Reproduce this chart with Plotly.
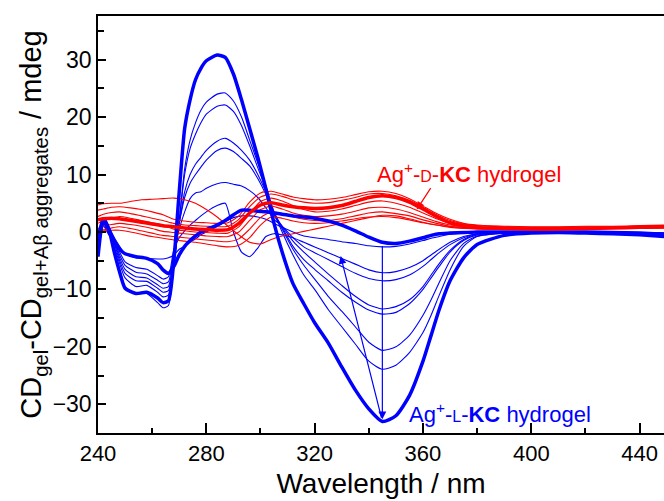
import plotly.graph_objects as go

# ---------------- data ----------------
WL_RED = [240, 242, 245, 248, 252, 256, 260, 264, 268, 272, 276, 280, 284, 288, 292, 296, 300, 304, 308, 312,
          316, 320, 325, 330, 335, 340, 345, 350, 355, 360, 365, 370, 375, 380, 390, 400, 410, 420, 430, 440, 450]

RED_THICK = [2.1, 2.3, 2.4, 2.3, 2.0, 1.7, 1.4, 1.1, 0.9, 0.7, 0.5, 0.4, 0.3, 0.4, 1.5, 3.3, 4.7, 5.1, 4.7, 4.4,
             4.2, 4.1, 4.2, 4.6, 5.3, 6.0, 6.3, 6.0, 5.2, 4.0, 2.7, 1.6, 1.1, 0.8, 0.6, 0.5, 0.5, 0.6, 0.7, 0.8, 0.9]
RED_1 = [3.8, 4.0, 4.3, 4.4, 4.2, 3.9, 3.5, 3.0, 2.2, 1.9, 1.7, 1.6, 1.5, 1.6, 2.8, 5.2, 6.8, 7.1, 6.6, 6.1,
         5.8, 5.6, 5.7, 6.0, 6.5, 7.0, 7.1, 6.7, 5.8, 4.5, 3.2, 2.2, 1.5, 1.2, 1.0, 0.9, 0.9, 1.0, 1.0, 1.1, 1.2]
RED_2 = [2.7, 3.1, 3.4, 3.5, 3.2, 2.8, 2.4, 2.0, 1.5, 1.2, 1.1, 1.0, 0.9, 1.0, 2.2, 4.4, 6.1, 6.6, 6.2, 5.6,
         5.2, 5.0, 5.1, 5.5, 6.0, 6.6, 6.7, 6.3, 5.5, 4.3, 3.0, 2.0, 1.4, 1.1, 0.9, 0.8, 0.8, 0.9, 0.9, 1.0, 1.1]
RED_3 = [1.5, 2.0, 2.4, 2.7, 2.4, 2.0, 1.6, 1.2, 0.5, 0.2, 0.0, -0.1, -0.2, -0.2, 0.9, 3.2, 5.3, 5.9, 5.4, 4.6,
         3.9, 3.5, 3.6, 4.0, 4.6, 5.2, 5.4, 5.0, 4.3, 3.3, 2.3, 1.5, 1.0, 0.8, 0.7, 0.6, 0.6, 0.7, 0.7, 0.8, 0.9]
RED_4 = [0.6, 1.0, 1.3, 1.5, 1.3, 1.0, 0.6, 0.1, -0.1, -0.3, -0.5, -0.7, -0.8, -0.8, 0.0, 2.0, 3.9, 4.5, 4.0, 3.3,
         2.9, 2.7, 2.8, 3.1, 3.6, 4.2, 4.3, 4.0, 3.4, 2.6, 1.8, 1.2, 0.9, 0.7, 0.6, 0.6, 0.6, 0.6, 0.7, 0.7, 0.8]
RED_5 = [0.0, 0.4, 0.7, 0.9, 0.6, 0.2, -0.2, -0.6, -0.8, -1.0, -1.2, -1.4, -1.6, -1.7, -1.2, 0.5, 2.5, 3.5, 3.2, 2.6,
         2.2, 2.0, 2.0, 2.3, 2.8, 3.3, 3.5, 3.2, 2.8, 2.1, 1.5, 1.0, 0.8, 0.6, 0.5, 0.5, 0.5, 0.6, 0.6, 0.7, 0.7]
RED_6 = [0.0, 0.2, 0.3, 0.3, 0.0, -0.4, -0.8, -1.1, -1.4, -1.6, -1.8, -2.1, -2.4, -2.6, -2.3, -1.0, 1.2, 2.6, 2.4, 1.9,
         1.6, 1.5, 1.6, 1.9, 2.3, 2.6, 2.7, 2.5, 2.1, 1.6, 1.2, 0.9, 0.7, 0.6, 0.5, 0.5, 0.5, 0.5, 0.6, 0.6, 0.7]
RED_7 = [4.7, 4.9, 5.0, 5.0, 5.3, 5.6, 5.7, 5.8, 5.9, 5.6, 5.0, 3.9, 2.6, 1.0, -0.5, -1.8, -2.1, -1.3, -0.7, -0.3,
         0.1, 0.5, 1.0, 1.5, 2.0, 2.5, 2.9, 2.8, 2.3, 1.7, 1.2, 0.8, 0.6, 0.5, 0.5, 0.5, 0.5, 0.6, 0.6, 0.7, 0.8]

WL_BLUE = [240, 242, 244, 246, 248, 250, 254, 258, 262, 264, 266, 268, 270, 272, 274, 276, 278, 280, 284, 287,
           290, 293, 296, 299, 302, 305, 308, 312, 316, 320, 325, 330, 335, 340, 345, 350, 355, 360, 363, 366,
           370, 375, 380, 390, 400, 410, 420, 430, 440, 450]

BLUE_THICK_1 = [-1.0, 2.3, 0.5, -3.5, -7.0, -9.8, -10.7, -10.5, -11.5, -12.3, -12.0, -5.0, 7.0, 18.0, 23.0, 26.5,
                28.5, 29.8, 30.8, 30.4, 27.5, 23.0, 18.0, 13.0, 7.5, 1.5, -3.5, -9.0, -12.5, -15.8, -19.3, -23.5,
                -27.5, -30.8, -33.0, -32.0, -28.5, -22.5, -18.0, -13.5, -8.5, -4.5, -2.2, -0.6, -0.2, -0.1, -0.2,
                -0.3, -0.5, -0.8]
BLUE_2 = [-0.5, 2.0, 0.3, -3.0, -6.5, -9.5, -10.8, -10.7, -12.3, -13.2, -12.8, -6.0, 2.0, 11.0, 16.0, 19.0, 21.2,
          22.6, 24.0, 24.2, 22.8, 20.0, 16.0, 12.0, 8.0, 3.5, 0.0, -4.0, -7.5, -10.0, -13.5, -16.5, -19.5, -22.5,
          -23.9, -23.2, -21.0, -17.5, -14.5, -11.0, -6.6, -2.5, -0.8, -0.2, -0.1, -0.1, -0.2, -0.2, -0.3, -0.5]
BLUE_3 = [-1.5, 1.8, 0.2, -2.5, -5.5, -8.0, -9.5, -9.3, -10.5, -11.3, -11.0, -5.5, 2.0, 10.0, 14.5, 17.0, 19.0,
          20.5, 21.9, 22.1, 21.0, 18.5, 15.0, 11.2, 7.5, 3.0, 0.5, -3.0, -5.8, -8.2, -11.2, -13.8, -16.5, -19.2,
          -20.6, -20.0, -18.0, -14.5, -11.8, -8.8, -5.0, -2.0, -0.7, -0.2, -0.1, -0.1, -0.1, -0.2, -0.3, -0.4]
BLUE_4 = [-2.0, 1.5, 0.0, -2.0, -5.0, -7.2, -8.5, -8.6, -9.8, -10.5, -10.2, -5.0, 1.5, 7.0, 10.0, 11.8, 13.0,
          14.2, 15.8, 16.3, 15.5, 14.2, 12.5, 10.0, 7.0, 3.5, 0.8, -2.5, -4.8, -6.5, -8.5, -10.5, -12.2, -13.6,
          -14.3, -14.0, -12.5, -10.0, -8.0, -6.0, -3.5, -1.5, -0.5, -0.2, -0.1, -0.1, -0.1, -0.2, -0.2, -0.3]
BLUE_5 = [-2.5, 1.3, -0.2, -1.8, -4.5, -6.5, -7.8, -8.0, -9.2, -9.8, -9.5, -4.5, 1.5, 6.0, 8.5, 10.0, 11.3,
          12.5, 14.2, 14.6, 14.0, 12.8, 11.5, 9.3, 6.5, 3.0, 1.0, -1.6, -3.5, -5.2, -7.3, -9.3, -11.2, -12.7,
          -13.4, -13.0, -11.8, -9.5, -7.5, -5.5, -3.2, -1.3, -0.4, -0.2, -0.1, -0.1, -0.1, -0.1, -0.2, -0.3]
BLUE_6 = [-3.0, 1.2, -0.3, -1.6, -4.0, -5.8, -7.0, -7.3, -8.4, -9.0, -8.7, -3.5, 0.5, 3.5, 5.8, 6.8, 7.0,
          7.6, 8.4, 8.6, 8.3, 8.0, 7.2, 6.0, 4.2, 2.2, 1.0, -1.0, -2.6, -3.6, -4.8, -6.0, -7.2, -8.1,
          -8.5, -8.3, -7.5, -6.0, -4.8, -3.6, -2.2, -1.0, -0.3, -0.1, -0.1, 0.0, -0.1, -0.1, -0.2, -0.2]
BLUE_7 = [-3.5, 1.0, -0.5, -1.5, -3.5, -5.2, -6.2, -6.5, -7.6, -8.2, -7.8, -3.0, -1.0, 0.2, 1.2, 2.0, 2.8,
          3.5, 4.6, 5.0, 0.0, -3.5, -4.3, -2.8, -0.8, -0.3, -0.5, -1.0, -1.8, -2.6, -3.6, -4.6, -5.6, -6.6,
          -7.1, -6.9, -6.2, -5.0, -4.0, -3.0, -1.8, -0.8, -0.3, -0.1, 0.0, 0.0, -0.1, -0.1, -0.1, -0.2]
BLUE_8 = [-1.4, 1.5, 0.5, -1.0, -2.5, -3.8, -4.5, -4.6, -4.7, -4.7, -4.5, -4.0, -3.0, -2.5, -1.8, -1.2, -0.5,
          0.0, 1.0, 1.8, 2.5, 2.8, 2.8, 2.6, 2.2, 1.5, 0.8, 0.0, -0.7, -1.0, -1.3, -1.7, -2.0, -2.4,
          -2.6, -2.5, -2.1, -1.5, -1.1, -0.8, -0.4, -0.2, 0.0, 0.0, 0.0, 0.0, -0.1, -0.1, -0.1, -0.2]
BLUE_THICK_9 = [-4.3, 2.3, 0.5, -1.5, -3.0, -3.8, -4.3, -4.6, -5.5, -6.6, -7.2, -6.0, -4.0, -2.5, -1.5, -0.7,
                0.0, 0.4, 1.2, 2.0, 3.0, 3.8, 3.8, 3.6, 3.5, 3.3, 3.1, 2.8, 2.6, 2.4, 1.9, 1.2, 0.2, -0.9,
                -1.8, -2.0, -1.6, -1.0, -0.6, -0.3, -0.2, -0.1, 0.0, 0.0, 0.0, 0.0, 0.0, -0.1, -0.2, -0.4]

X_TICKS = [240, 280, 320, 360, 400, 440]
Y_TICKS = [-30, -20, -10, 0, 10, 20, 30]

RED = "#FF0000"
BLUE = "#0000FF"
FONT = "Liberation Sans, Arial, sans-serif"

fig = go.Figure()

def add(x, y, color, width):
    fig.add_trace(go.Scatter(x=x, y=y, mode="lines", line=dict(color=color, width=width, shape="spline", smoothing=0.6),
                             showlegend=False, hoverinfo="skip", cliponaxis=True))

for s in [BLUE_2, BLUE_3, BLUE_4, BLUE_5, BLUE_6, BLUE_7, BLUE_8]:
    add(WL_BLUE, s, BLUE, 1.1)
for s in [RED_1, RED_2, RED_3, RED_4, RED_5, RED_6, RED_7]:
    add(WL_RED, s, RED, 1.1)
add(WL_BLUE, BLUE_THICK_1, BLUE, 3.5)
add(WL_BLUE, BLUE_THICK_9, BLUE, 3.5)
add(WL_RED, RED_THICK, RED, 3.5)

annotations = [
    dict(x=342.3, y=10.3, xref="x", yref="y", xanchor="left", yanchor="middle", showarrow=False,
         text="Ag<sup>+</sup>-<span style='font-size:16px'>D</span>-<b>KC</b> hydrogel",
         font=dict(family=FONT, size=22, color=RED)),
    dict(x=354.0, y=-31.5, xref="x", yref="y", xanchor="left", yanchor="middle", showarrow=False,
         text="Ag<sup>+</sup>-<span style='font-size:16px'>L</span>-<b>KC</b> hydrogel",
         font=dict(family=FONT, size=22, color=BLUE)),
    # red arrow
    dict(x=357.7, y=3.9, ax=363.2, ay=7.9, xref="x", yref="y", axref="x", ayref="y", text="",
         showarrow=True, arrowhead=2, arrowsize=1.3, arrowwidth=1.2, arrowcolor=RED),
    # blue vertical arrow (down)
    dict(x=345.0, y=-32.6, ax=345.0, ay=-2.2, xref="x", yref="y", axref="x", ayref="y", text="",
         showarrow=True, arrowhead=2, arrowsize=1.3, arrowwidth=1.2, arrowcolor=BLUE),
    # blue slanted arrow (up)
    dict(x=329.6, y=-4.2, ax=344.8, ay=-32.6, xref="x", yref="y", axref="x", ayref="y", text="",
         showarrow=True, arrowhead=2, arrowsize=1.3, arrowwidth=1.2, arrowcolor=BLUE),
]

fig.update_layout(
    width=664, height=501,
    margin=dict(l=98, r=0, t=16, b=68, autoexpand=False),
    paper_bgcolor="white", plot_bgcolor="white",
    font=dict(family=FONT, color="black"),
    annotations=annotations,
    xaxis=dict(
        range=[240, 449], tickvals=X_TICKS, ticks="inside", ticklen=10, tickwidth=1.5, tickcolor="black",
        showline=True, linecolor="black", linewidth=1.5, mirror=True, showgrid=False, zeroline=False,
        automargin=False,
        tickfont=dict(family=FONT, size=22, color="black"),
        minor=dict(dtick=20, tick0=240, ticks="inside", ticklen=5, tickwidth=1.5, tickcolor="black", showgrid=False),
        title=dict(text="Wavelength / nm", font=dict(family=FONT, size=28, color="black"), standoff=8),
    ),
    yaxis=dict(
        range=[-35, 37.6], tickvals=Y_TICKS, ticks="inside", ticklen=8, tickwidth=1.5, tickcolor="black",
        showline=True, linecolor="black", linewidth=1.5, mirror=False, showgrid=False, zeroline=False,
        automargin=False,
        tickfont=dict(family=FONT, size=23, color="black"),
        minor=dict(dtick=5, tick0=0, ticks="inside", ticklen=6, tickwidth=1.5, tickcolor="black", showgrid=False),
        title=dict(text="CD<sub>gel</sub>-CD<sub>gel+Aβ aggregates</sub> / mdeg",
                   font=dict(family=FONT, size=29, color="black"), standoff=2),
    ),
)

fig.write_html("out.html", config={"displayModeBar": False})

# remove the default page margin so the figure sits at the window's top-left corner
with open("out.html", "r", encoding="utf-8") as f:
    html = f.read()
html = html.replace("<body>", "<body style=\"margin:0;padding:0;overflow:hidden\">", 1)
with open("out.html", "w", encoding="utf-8") as f:
    f.write(html)
